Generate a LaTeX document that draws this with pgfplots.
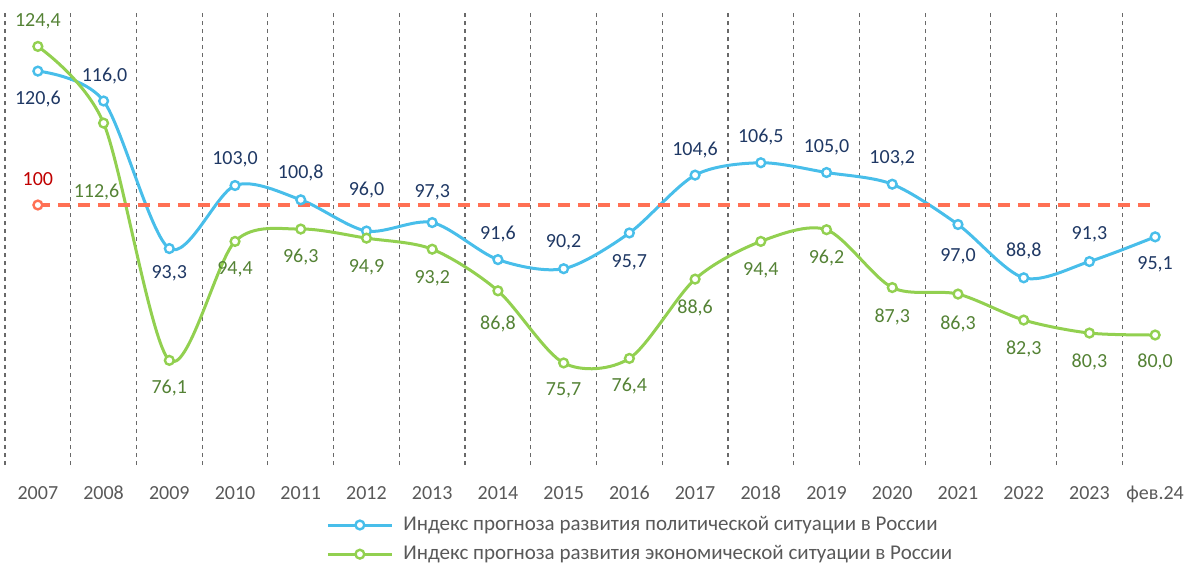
\documentclass[border=0pt]{standalone}
\usepackage{fontspec}
\setmainfont{Carlito}
\usepackage{pgfplots}
\pgfplotsset{compat=1.18}
\usepackage{pgfplotstable}

\definecolor{cblue}{RGB}{72,190,234}
\definecolor{cgreen}{RGB}{146,208,80}
\definecolor{cred}{RGB}{255,112,84}
\definecolor{lblue}{RGB}{31,56,100}
\definecolor{lgreen}{RGB}{84,130,53}
\definecolor{lred}{RGB}{192,0,0}
\definecolor{tgray}{RGB}{89,89,89}
\definecolor{ggray}{RGB}{105,105,105}

\pgfplotstableread{
x y dx dy
0 120.6 0 -14
1 116.0 0.5 12.5
2 93.3 0 -12.5
3 103.0 0 13
4 100.8 0 13.5
5 96.0 0 20.5
6 97.3 0 15
7 91.6 0 13
8 90.2 0 13
9 95.7 0 -14.5
10 104.6 0 12.5
11 106.5 0 13
12 105.0 0 12.5
13 103.2 0 13
14 97.0 0 -16
15 88.8 0 13.5
16 91.3 0 13.5
17 95.1 0 -13.5
}\polit

\pgfplotstableread{
x y dx dy
0 124.4 0 12.5
1 112.6 -3.5 -34.5
2 76.1 0 -14
3 94.4 0 -14
4 96.3 0 -14
5 94.9 0 -14.5
6 93.2 0 -14.5
7 86.8 0 -16.5
8 75.7 0 -13.5
9 76.4 0 -14
10 88.6 0 -14.5
11 94.4 0 -14.5
12 96.2 0 -14
13 87.3 0 -14.5
14 86.3 0 -15
15 82.3 0 -14.5
16 80.3 0 -14.5
17 80.0 0 -13.5
}\econ

\pgfplotstableread{
x y
0 100
17 100
}\base

\pgfplotsset{
  lbl/.style={
    visualization depends on={\thisrow{dx} \as \dx},
    visualization depends on={\thisrow{dy} \as \dy},
    point meta=explicit,
    nodes near coords={\pgfmathprintnumber[fixed,fixed zerofill,precision=1,use comma,assume math mode=true]{\pgfplotspointmeta}},
    every node near coord/.append style={font=\fontsize{10}{12}\selectfont, anchor=center, xshift=\dx pt, yshift=\dy pt, text=#1},
  },
}

\begin{document}
\begin{tikzpicture}
\begin{axis}[
  at={(0,0)}, anchor=south west,
  scale only axis, width=591.5pt, height=227.5pt,
  xmin=-0.5, xmax=17.5, ymin=60, ymax=130,
  axis line style={draw=none},
  ytick=\empty,
  xtick={0,...,17},
  xticklabels={2007,2008,2009,2010,2011,2012,2013,2014,2015,2016,2017,2018,2019,2020,2021,2022,2023,фев.24},
  major tick length=0pt, minor tick length=0pt,
  minor xtick={-0.5,0.5,...,16.5},
  xminorgrids=true,
  minor grid style={dash pattern=on 2pt off 2pt, color=ggray, line width=0.6pt},
  xticklabel style={font=\fontsize{10}{12}\selectfont, text=tgray, yshift=-7pt},
  clip=false,
  legend style={at={(0.2747,0)}, anchor=north west, xshift=-5pt, yshift=-21.5pt, draw=none, fill=none,
    font=\fontsize{10.5}{12}\selectfont, text=tgray, row sep=2pt},
  legend cell align=left,
  legend image code/.code={\draw[mark repeat=2, mark phase=2] plot coordinates {(0pt,0pt) (16pt,0pt) (32pt,0pt)}; \path (35pt,0pt);},
]
\addplot[cblue, line width=1.5pt, smooth, mark=*, mark size=2.2pt, mark options={fill=white, line width=1.2pt},
  lbl=lblue] table[x=x, y=y, meta=y] {\polit};
\addlegendentry{Индекс прогноза развития политической ситуации в России}
\addplot[cgreen, line width=1.5pt, smooth, mark=*, mark size=2.2pt, mark options={fill=white, line width=1.2pt},
  lbl=lgreen] table[x=x, y=y, meta=y] {\econ};
\addlegendentry{Индекс прогноза развития экономической ситуации в России}
\addplot[cred, line width=1.6pt, dash pattern=on 6pt off 4pt, forget plot] table[x=x, y=y] {\base};
\addplot[cred, only marks, mark=*, mark size=2.2pt, mark options={fill=white, line width=1.2pt, solid}, forget plot,
  nodes near coords={100},
  every node near coord/.append style={font=\fontsize{10}{12}\selectfont, anchor=center, yshift=13pt, text=lred}]
  coordinates {(0,100)};
\end{axis}
\pgfresetboundingbox
\useasboundingbox (-2.5pt,-49pt) rectangle (590.5pt,232.5pt);
\end{tikzpicture}
\end{document}
